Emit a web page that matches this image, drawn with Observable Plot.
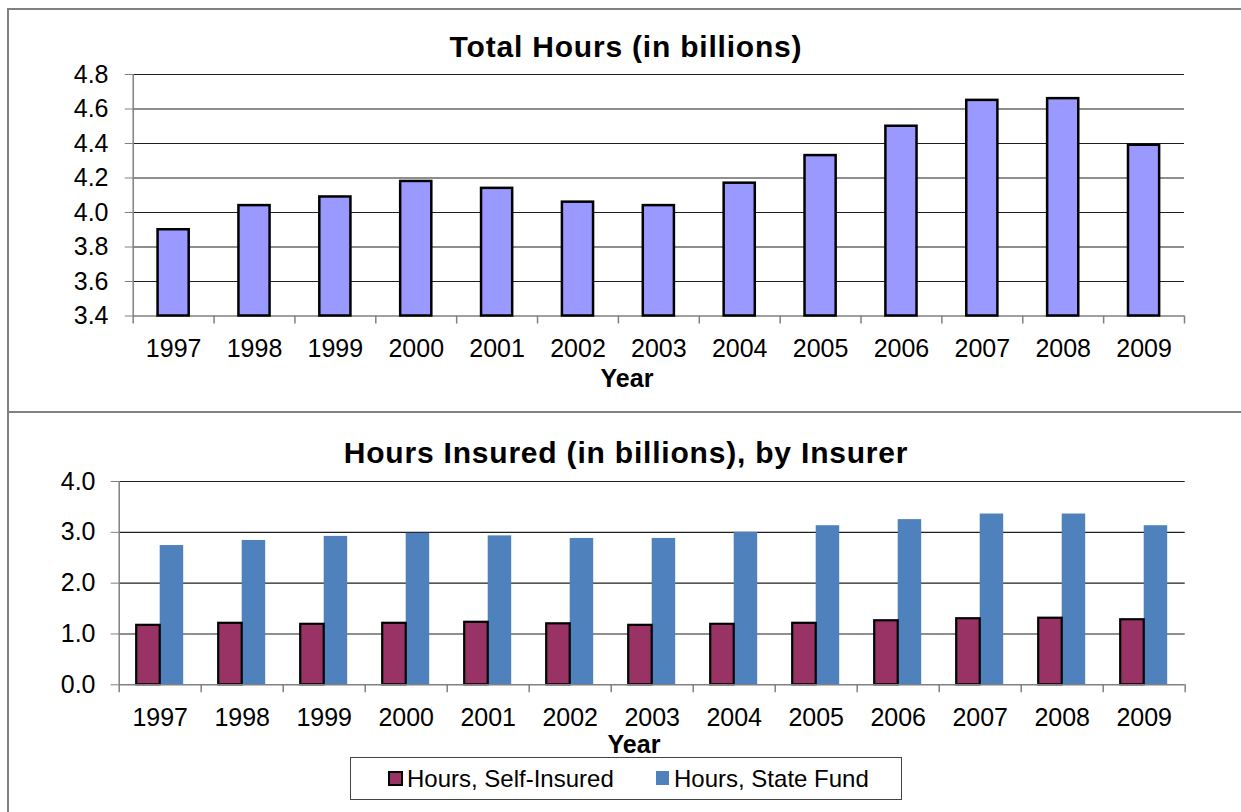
<!DOCTYPE html>
<html>
<head>
<meta charset="utf-8">
<script src="https://cdn.jsdelivr.net/npm/d3@7"></script>
<script src="https://cdn.jsdelivr.net/npm/@observablehq/plot@0.6"></script>
<style>
  body { margin: 0; background: #fff; font-family: "Liberation Sans", Arial, sans-serif; }
  #wrap { position: relative; width: 1241px; height: 812px; overflow: hidden; background: #fff; }
  .box { position: absolute; border: 2px solid #808080; box-sizing: border-box; }
  .chart { position: absolute; left: 0; }
  .title { position: absolute; font-family: "Liberation Sans", Arial, sans-serif; font-weight: bold; font-size: 30px; line-height: 30px; letter-spacing: 0.8px; white-space: nowrap; transform: translateX(-50%); color: #000; }
  .axlabel { position: absolute; font-family: "Liberation Sans", Arial, sans-serif; font-weight: bold; font-size: 25px; line-height: 25px; white-space: nowrap; transform: translateX(-50%); color: #000; }
  #legend { position: absolute; left: 350px; top: 757px; width: 552px; height: 43px; border: 1.5px solid #444; box-sizing: border-box; background: #fff; }
  .lmark { position: absolute; box-sizing: border-box; }
  .ltext { position: absolute; font-family: "Liberation Sans", Arial, sans-serif; font-size: 24px; line-height: 24px; white-space: nowrap; color: #000; }
</style>
</head>
<body>
<div id="wrap">
  <div class="box" style="left:7px; top:8px; width:1260px; height:405px;"></div>
  <div class="box" style="left:7px; top:411px; width:1260px; height:420px;"></div>
  <div id="topChart" class="chart" style="top:0px;"></div>
  <div id="bottomChart" class="chart" style="top:412px;"></div>
  <div class="title" style="left:626px; top:31.5px;">Total Hours (in billions)</div>
  <div class="title" style="left:626px; top:437.5px;">Hours Insured (in billions), by Insurer</div>
  <div class="axlabel" style="left:627px; top:365.5px;">Year</div>
  <div class="axlabel" style="left:634px; top:731.5px;">Year</div>
  <div id="legend"></div>
</div>
<script>
// ---- Data ----
const years = ["1997","1998","1999","2000","2001","2002","2003","2004","2005","2006","2007","2008","2009"];
const totalHours = [3.90, 4.04, 4.09, 4.18, 4.14, 4.06, 4.04, 4.17, 4.33, 4.50, 4.65, 4.66, 4.39];
const selfInsured = [1.17, 1.21, 1.19, 1.21, 1.23, 1.20, 1.17, 1.19, 1.21, 1.26, 1.30, 1.31, 1.28];
const stateFund = [2.74, 2.84, 2.92, 2.98, 2.93, 2.88, 2.88, 3.00, 3.13, 3.25, 3.36, 3.36, 3.13];
const topTicks = [3.4, 3.6, 3.8, 4.0, 4.2, 4.4, 4.6, 4.8];
const bottomTicks = [0, 1, 2, 3, 4];
const seriesNames = ["Hours, Self-Insured", "Hours, State Fund"];
const seriesColors = ["#993366", "#4F81BD"];
const totalColor = "#9999FF";

const W = 1241;
const fontStyle = {fontFamily: "'Liberation Sans', Arial, sans-serif", fontSize: "25px", color: "#000", background: "none", overflow: "visible"};
const gridColor = "#1e1e1e";
const axisColor = "#808080";

// ---- Top chart ----
{
  const mL = 132.7, mR = 57, mT = 74, H = 412, mB = H - 315.5;
  const n = years.length;
  const step = (W - mL - mR) / n;
  const pIn = 0.615;
  const data = years.map((year, i) => ({year, value: totalHours[i]}));
  const yMin = topTicks[0], yMax = topTicks[topTicks.length - 1];
  const chart = Plot.plot({
    width: W, height: H,
    marginLeft: mL, marginRight: mR, marginTop: mT, marginBottom: mB,
    style: fontStyle,
    x: {type: "band", domain: years, paddingInner: pIn, paddingOuter: pIn / 2, round: false, axis: null, label: null},
    y: {domain: [yMin, yMax], axis: null, label: null},
    marks: [
      Plot.ruleY(topTicks.slice(1), {stroke: gridColor, strokeWidth: 1.2}),
      Plot.ruleY([yMin], {stroke: axisColor, strokeWidth: 1.5}),
      Plot.ruleX([years[0]], {x: d => d, y1: yMin, y2: yMax, dx: -step / 2, stroke: axisColor, strokeWidth: 1.5}),
      Plot.ruleX(years, {x: d => d, y1: yMin, y2: yMin, insetBottom: -8, dx: -step / 2, stroke: axisColor, strokeWidth: 1.5}),
      Plot.ruleX([years[n - 1]], {x: d => d, y1: yMin, y2: yMin, insetBottom: -8, dx: step / 2, stroke: axisColor, strokeWidth: 1.5}),
      Plot.barY(data, {x: "year", y1: yMin, y2: "value", fill: totalColor, stroke: "#000", strokeWidth: 2.5}),
      Plot.axisY({ticks: topTicks, tickSize: 8, tickPadding: 16.7, tickFormat: d => d.toFixed(1), fontSize: 25, stroke: axisColor, label: null}),
      Plot.axisX({tickSize: 0, tickPadding: 23.5, fontSize: 25, label: null})
    ]
  });
  document.getElementById("topChart").appendChild(chart);
}

// ---- Bottom chart ----
{
  const mL = 118.7, mR = 56.3, mT = 69, H = 400, mB = H - 272.3;
  const n = years.length;
  const step = (W - mL - mR) / n;
  const pIn = 0.427;
  const bw = step * (1 - pIn);
  const selfData = years.map((year, i) => ({year, series: seriesNames[0], value: selfInsured[i]}));
  const stateData = years.map((year, i) => ({year, series: seriesNames[1], value: stateFund[i]}));
  const yMin = bottomTicks[0], yMax = bottomTicks[bottomTicks.length - 1];
  const chart = Plot.plot({
    width: W, height: H,
    marginLeft: mL, marginRight: mR, marginTop: mT, marginBottom: mB,
    style: fontStyle,
    x: {type: "band", domain: years, paddingInner: pIn, paddingOuter: pIn / 2, round: false, axis: null, label: null},
    y: {domain: [yMin, yMax], axis: null, label: null},
    marks: [
      Plot.ruleY(bottomTicks.slice(1), {stroke: gridColor, strokeWidth: 1.2}),
      Plot.ruleX([years[0]], {x: d => d, y1: yMin, y2: yMax, dx: -step / 2, stroke: axisColor, strokeWidth: 1.5}),
      Plot.ruleX(years, {x: d => d, y1: yMin, y2: yMin, insetBottom: -8, dx: -step / 2, stroke: axisColor, strokeWidth: 1.5}),
      Plot.ruleX([years[n - 1]], {x: d => d, y1: yMin, y2: yMin, insetBottom: -8, dx: step / 2, stroke: axisColor, strokeWidth: 1.5}),
      Plot.barY(stateData, {x: "year", y: "value", fill: seriesColors[1], insetLeft: bw / 2}),
      Plot.barY(selfData, {x: "year", y: "value", fill: seriesColors[0], insetRight: bw / 2, stroke: "#000", strokeWidth: 2.2}),
      Plot.ruleY([yMin], {stroke: axisColor, strokeWidth: 1.5}),
      Plot.axisY({ticks: bottomTicks, tickSize: 8, tickPadding: 15.7, tickFormat: d => d.toFixed(1), fontSize: 25, stroke: axisColor, label: null}),
      Plot.axisX({tickSize: 0, tickPadding: 23.7, fontSize: 25, label: null})
    ]
  });
  document.getElementById("bottomChart").appendChild(chart);
}

// ---- Legend ----
{
  const legend = document.getElementById("legend");
  const items = [
    {mark: [37, 13, 15, 15], border: "2px solid #000", text: 56},
    {mark: [305, 13, 13, 14], border: "none", text: 323}
  ];
  seriesNames.forEach((name, i) => {
    const m = document.createElement("div");
    m.className = "lmark";
    const [l, t, w, h] = items[i].mark;
    m.style.left = l + "px"; m.style.top = t + "px"; m.style.width = w + "px"; m.style.height = h + "px";
    m.style.background = seriesColors[i];
    m.style.border = items[i].border;
    legend.appendChild(m);
    const s = document.createElement("div");
    s.className = "ltext";
    s.style.left = items[i].text + "px";
    s.style.top = "9px";
    s.textContent = name;
    legend.appendChild(s);
  });
}
</script>
</body>
</html>
